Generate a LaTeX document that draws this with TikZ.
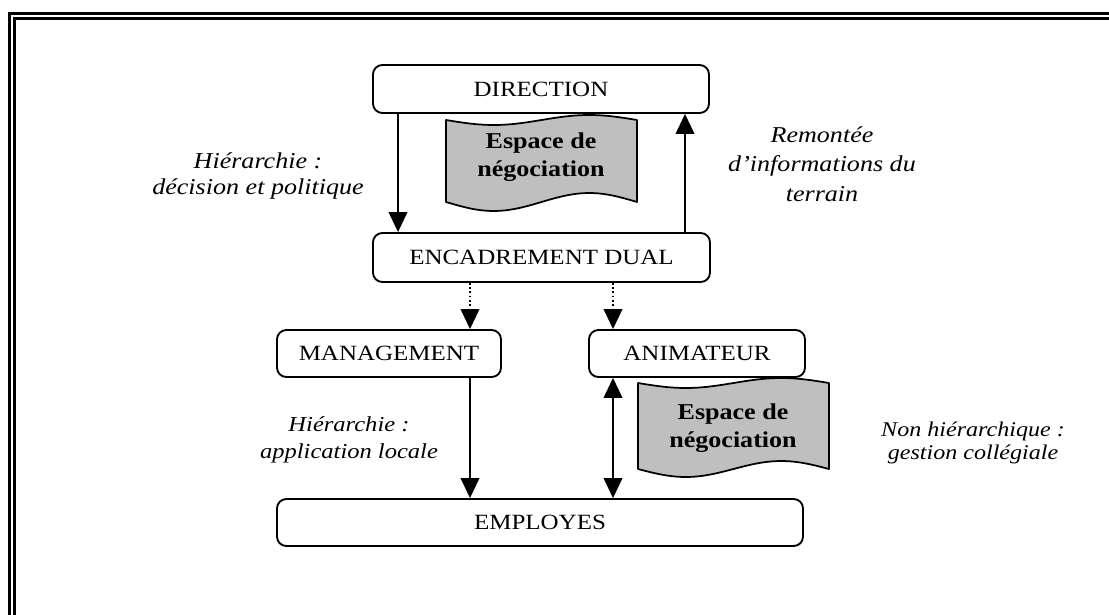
\documentclass[tikz,border=0pt]{standalone}
\usepackage{fontspec}
\setmainfont{Liberation Serif}[FakeStretch=1.15]
\usetikzlibrary{arrows.meta,calc}
\begin{document}
\begin{tikzpicture}[x=0.75pt,y=-0.75pt,
  box/.style={font=\fontsize{16.3}{20}\selectfont,draw,line width=1.4pt,rounded corners=7pt,inner sep=0pt},
  lbl/.style={font=\fontsize{17}{20}\selectfont\itshape,align=center,inner sep=0pt},
  wavetxt/.style={font=\fontsize{17}{20.5}\selectfont\bfseries,align=center,inner sep=0pt},
  wave/.style={draw,fill=gray!50!white,line width=1.3pt,line join=round},
  tip/.tip={Triangle[width=14pt,length=15pt]},
  arr/.style={line width=1.2pt,-tip},
  darr/.style={line width=1.2pt,tip-tip},
  dotarr/.style={line width=1.2pt,dotted,-tip},
  frameout/.style={line width=2.3pt},
  framein/.style={line width=1.9pt}]
\useasboundingbox (0,0) rectangle (1109,614);
% frame
\draw[frameout] (9.5,620) -- (9.5,13.5) -- (1115,13.5);
\draw[framein] (14.5,620) -- (14.5,18.5) -- (1115,18.5);
% waves
\draw[wave] plot[domain=0:1,samples=40] ({446+191*\x},{120+5*sin(360*\x)})
  -- plot[domain=1:0,samples=40] ({446+191*\x},{202+9*sin(360*\x)}) -- cycle;
\node[wavetxt] (w1) at (541,157) {Espace de\\négociation};
\draw[wave] plot[domain=0:1,samples=40] ({638+191*\x},{383+5*sin(360*\x)})
  -- plot[domain=1:0,samples=40] ({638+191*\x},{469+8*sin(360*\x)}) -- cycle;
\node[wavetxt] (w2) at (733,428) {Espace de\\négociation};
% boxes
\node[box,minimum width=252pt,minimum height=36pt] (dir) at (541,89) {DIRECTION};
\node[box,minimum width=252.75pt,minimum height=36.75pt] (enc) at (541.5,257.5) {ENCADREMENT DUAL};
\node[box,minimum width=168pt,minimum height=35.25pt] (man) at (389,353.5) {MANAGEMENT};
\node[box,minimum width=162pt,minimum height=35.25pt] (ani) at (697,353.5) {ANIMATEUR};
\node[box,minimum width=394.5pt,minimum height=35.25pt] (emp) at (540,522.5) {EMPLOYES};
% labels
\node[lbl] (l1) at (258,176) {Hiérarchie :\\décision et politique};
\node[lbl,font=\fontsize{17}{22}\selectfont\itshape] (l2) at (822,164) {Remontée\\d’informations du\\terrain};
\node[lbl,font=\fontsize{16}{20}\selectfont\itshape] (l3) at (349,440) {Hiérarchie :\\application locale};
\node[lbl,font=\fontsize{15.7}{17.5}\selectfont\itshape] (l4) at (973,443) {Non hiérarchique :\\gestion collégiale};
% connectors
\coordinate (xl) at (398,0);
\coordinate (xr) at (685,0);
\coordinate (xa) at (470,0);
\coordinate (xb) at (613,0);
\draw[arr] (dir.south -| xl) -- (enc.north -| xl);
\draw[arr] (enc.north -| xr) -- (dir.south -| xr);
\draw[dotarr] (enc.south -| xa) -- (man.north -| xa);
\draw[dotarr] (enc.south -| xb) -- (ani.north -| xb);
\draw[arr] (man.south -| xa) -- (emp.north -| xa);
\draw[darr] (ani.south -| xb) -- (emp.north -| xb);
\end{tikzpicture}
\end{document}
